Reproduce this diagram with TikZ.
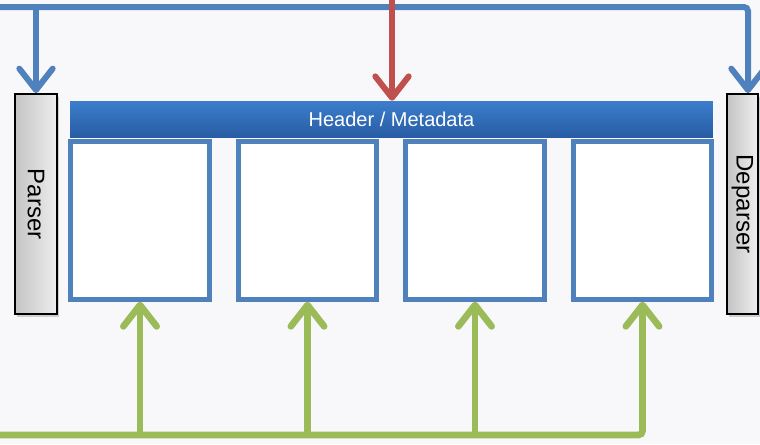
\documentclass[tikz,border=0pt]{standalone}
\usepackage{fontspec}
\setmainfont{Liberation Sans}
\usepackage{tikz}
\usetikzlibrary{arrows.meta,shapes,positioning,shadows}
\usepackage{xcolor}
\definecolor{pipeblue}{RGB}{79,129,189}
\definecolor{pipebluetop}{RGB}{60,126,204}
\definecolor{pipebluebot}{RGB}{40,92,164}
\definecolor{pipegreen}{RGB}{155,187,89}
\definecolor{pipered}{RGB}{192,80,77}
\definecolor{pipegray}{RGB}{196,196,196}
\definecolor{pipelightgray}{RGB}{238,238,238}
\definecolor{pipebg}{RGB}{248,248,251}
\tikzstyle{bluearrow} = [line width=4.5pt,-{Straight Barb[length=16pt,width=25pt,round]},color=pipeblue,rounded corners=3pt]
\tikzstyle{redarrow} = [line width=4.5pt,-{Straight Barb[length=16pt,width=25pt,round]},color=pipered]
\tikzstyle{greenarrow} = [line width=5pt,-{Straight Barb[length=16pt,width=25pt,round]},color=pipegreen,rounded corners=3pt]
\tikzstyle{endbox} = [rectangle, draw=black, line width=1.5pt, left color=pipegray, right color=pipelightgray, minimum width=31.5pt, minimum height=165pt, inner sep=0pt, font=\fontsize{18}{20}\selectfont, drop shadow={shadow xshift=1.5pt,shadow yshift=-2pt,opacity=0.35}]
\tikzstyle{stagebox} = [rectangle, draw=pipeblue, line width=3.8pt, fill=white, minimum width=104pt, minimum height=118pt]
\tikzstyle{headerbox} = [rectangle, top color=pipebluetop, bottom color=pipebluebot, minimum width=482pt, minimum height=27pt, inner sep=0pt, text=white, font=\fontsize{15}{18}\selectfont]

\begin{document}
\begin{tikzpicture}[x=0.75pt,y=-0.75pt]
\useasboundingbox (0,0) rectangle (760,444);
\fill[pipebg] (0,0) rectangle (760,444);

% Parser / Deparser
\node[endbox] (parser) at (36,204) {\rotatebox{-90}{Parser}};
\node[endbox, minimum width=23pt] (deparser) at (742.5,204) {\rotatebox{-90}{Deparser}};

% Header bar
\node[headerbox] (header) at (391.5,119) {Header / Metadata};

% Stages
\node[stagebox] (stage1) at (140,220.5) {};
\node[stagebox] (stage2) at (307.5,220.5) {};
\node[stagebox] (stage3) at (475,220.5) {};
\node[stagebox] (stage4) at (642.5,220.5) {};

% Blue control line
\coordinate (bluein) at (0,7);
\coordinate (blueturn) at (748,7);
\draw[bluearrow] (bluein) -- (blueturn) -- (blueturn |- deparser.north);
\draw[bluearrow] (parser.north |- bluein) -- (parser.north);

% Red input
\coordinate (redin) at (392,0);
\draw[redarrow] (redin) -- (redin |- header.north);

% Green table lines
\coordinate (greenin) at (0,435);
\draw[greenarrow] (greenin) -- (greenin -| stage4.south) -- (stage4.south);
\draw[greenarrow] (stage1.south |- greenin) -- (stage1.south);
\draw[greenarrow] (stage2.south |- greenin) -- (stage2.south);
\draw[greenarrow] (stage3.south |- greenin) -- (stage3.south);
\end{tikzpicture}
\end{document}
